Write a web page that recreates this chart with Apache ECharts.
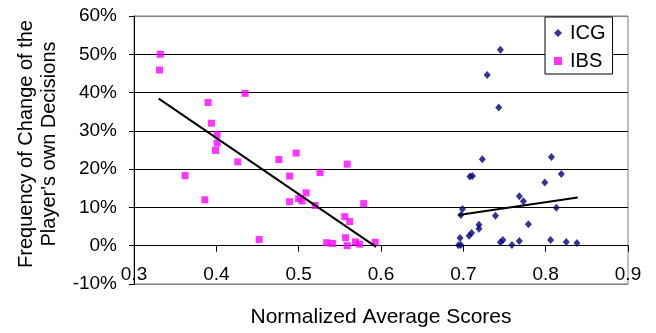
<!DOCTYPE html>
<html>
<head>
<meta charset="utf-8">
<script src="https://cdn.jsdelivr.net/npm/echarts@6/dist/echarts.min.js"></script>
<style>
  html, body { margin: 0; padding: 0; background: #fff; }
  #chart { width: 656px; height: 333px; }
</style>
</head>
<body>
<div id="chart"></div>
<script>
// ICG points: normalized average score / frequency of change (%)
const icgX = [0.745, 0.729, 0.743, 0.723, 0.807, 0.708, 0.711, 0.819, 0.799, 0.768,
              0.773, 0.699, 0.697, 0.813, 0.739, 0.779, 0.719, 0.719, 0.710, 0.707,
              0.696, 0.694, 0.697, 0.745, 0.748, 0.759, 0.768, 0.806, 0.825, 0.838]
const icgY = [51.2, 44.6, 36.1, 22.6, 23.2, 18.1, 18.2, 18.7, 16.5, 12.9,
              11.6, 9.6, 8.0, 9.9, 7.8, 5.6, 5.5, 4.4, 3.3, 2.6,
              2.0, 0.1, 0.2, 0.9, 1.5, 0.2, 1.2, 1.5, 1.0, 0.7]

// IBS points
const ibsX = [0.332, 0.331, 0.435, 0.390, 0.394, 0.401, 0.401, 0.399, 0.426, 0.362,
              0.386, 0.452, 0.476, 0.497, 0.559, 0.489, 0.526, 0.509, 0.500, 0.489,
              0.504, 0.520, 0.579, 0.556, 0.562, 0.534, 0.541, 0.557, 0.559, 0.569,
              0.574, 0.593]
const ibsY = [50.0, 45.9, 39.8, 37.4, 32.0, 29.0, 26.8, 24.9, 21.9, 18.3,
              12.0, 1.6, 22.5, 24.2, 21.3, 18.2, 19.1, 13.8, 12.3, 11.5,
              11.7, 10.5, 11.0, 7.6, 6.3, 0.8, 0.6, 2.1, 0.0, 1.0,
              0.4, 0.9]

// linear trend lines (end points)
const icgTrendX = [0.694, 0.839]
const icgTrendY = [8.0, 12.6]
const ibsTrendX = [0.330, 0.594]
const ibsTrendY = [38.4, -0.3]

const FONT = 'Liberation Sans, Arial, sans-serif'

const zip = (xs, ys) => xs.map((x, i) => [x, ys[i]])

// grid: 7 bands of 10% between top 16 and bottom 284
const GRID_TOP = 16
const GRID_BOTTOM = 49
const BAND = (333 - GRID_TOP - GRID_BOTTOM) / 7

const chart = echarts.init(document.getElementById('chart'))

const option = {
    animation: false,
    backgroundColor: '#fff',
    textStyle: { fontFamily: FONT, color: '#000' },
    grid: {
        left: 134, right: 28, top: GRID_TOP, bottom: GRID_BOTTOM,
        outerBoundsMode: 'none',
        containLabel: false,
        show: true,
        borderColor: '#808080',
        borderWidth: 1,
    },
    legend: {
        orient: 'vertical',
        left: 545,
        top: 17,
        data: ['ICG', 'IBS'],
        itemWidth: 8,
        itemHeight: 8,
        itemGap: 8,
        padding: [6, 7, 3, 9],
        backgroundColor: '#fff',
        borderColor: '#000',
        borderWidth: 1,
        borderRadius: 0,
        textStyle: { fontFamily: FONT, fontSize: 20, color: '#000', padding: [0, 0, 0, 3] },
    },
    xAxis: {
        type: 'value',
        min: 0.3,
        max: 0.9,
        interval: 0.1,
        // x axis crosses at 0%, one band above the bottom edge
        offset: -BAND,
        name: 'Normalized Average Scores',
        nameLocation: 'middle',
        nameGap: 61,
        nameTextStyle: { fontFamily: FONT, fontSize: 21, color: '#000' },
        axisLine: { show: true, onZero: false, lineStyle: { color: '#000', width: 1 } },
        axisTick: { show: true, inside: false, length: 6, lineStyle: { color: '#000' } },
        axisLabel: {
            margin: 20,
            fontFamily: FONT, fontSize: 19, color: '#000',
            formatter: v => v.toFixed(1),
        },
        splitLine: { show: false },
    },
    yAxis: {
        type: 'value',
        min: -10,
        max: 60,
        interval: 10,
        name: 'Frequency of Change of the\nPlayer\'s own Decisions',
        nameLocation: 'middle',
        nameGap: 73,
        nameTextStyle: {
            fontFamily: FONT, fontSize: 20, color: '#000', lineHeight: 23,
            padding: [0, 0, 0, 12],
        },
        axisLine: { show: true, onZero: false, lineStyle: { color: '#000', width: 1 } },
        axisTick: { show: true, inside: false, length: 5, lineStyle: { color: '#000' } },
        axisLabel: {
            margin: 17,
            fontFamily: FONT, fontSize: 19, color: '#000',
            formatter: '{value}%',
        },
        splitLine: {
            show: true,
            lineStyle: {
                color: ['#808080', '#000', '#000', '#000', '#000', '#000', '#000', '#808080'],
                width: 1,
            },
        },
    },
    series: [
        {
            name: 'ICG',
            type: 'scatter',
            symbol: 'diamond',
            symbolSize: [7, 8],
            itemStyle: { color: '#000080' },
            data: zip(icgX, icgY),
        },
        {
            name: 'IBS',
            type: 'scatter',
            symbol: 'rect',
            symbolSize: 7,
            itemStyle: { color: '#ff00ff' },
            data: zip(ibsX, ibsY),
        },
        {
            name: 'IBS trend',
            type: 'line',
            symbol: 'none',
            lineStyle: { color: '#000', width: 2 },
            data: zip(ibsTrendX, ibsTrendY),
        },
        {
            name: 'ICG trend',
            type: 'line',
            symbol: 'none',
            lineStyle: { color: '#000', width: 2 },
            data: zip(icgTrendX, icgTrendY),
        },
    ],
}

chart.setOption(option)
</script>
</body>
</html>
